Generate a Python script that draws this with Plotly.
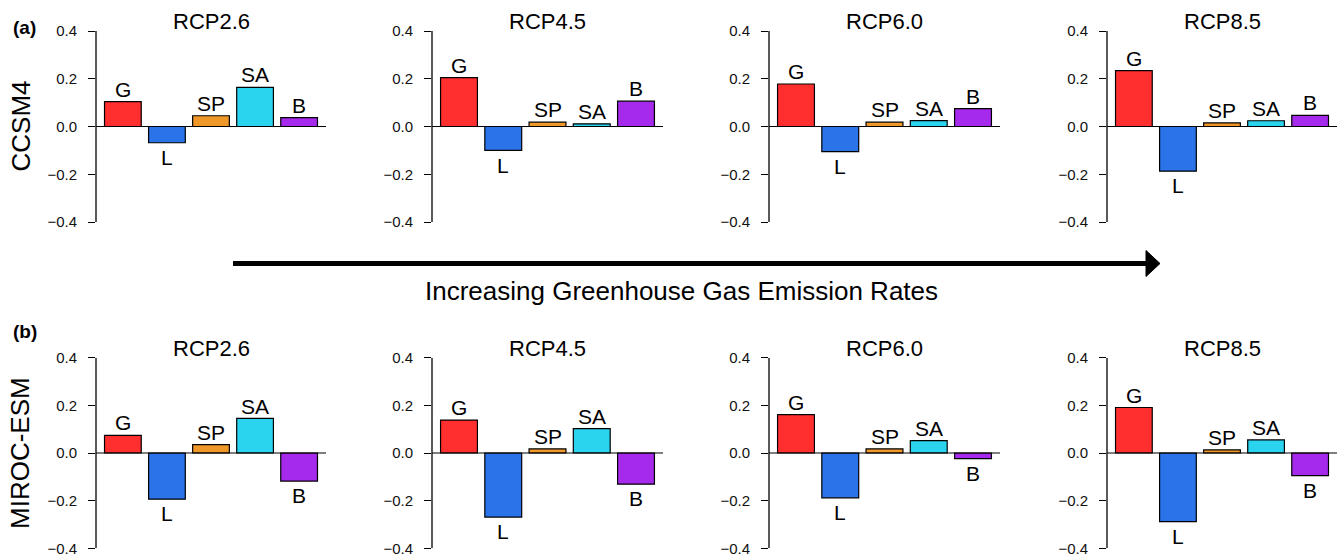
import plotly.graph_objects as go

# ---------------- data ----------------
categories = ["G", "L", "SP", "SA", "B"]
scenarios = ["RCP2.6", "RCP4.5", "RCP6.0", "RCP8.5"]
models = ["CCSM4", "MIROC-ESM"]
panel_letters = ["(a)", "(b)"]

ccsm4_rcp26 = [0.104, -0.068, 0.045, 0.164, 0.037]
ccsm4_rcp45 = [0.205, -0.100, 0.018, 0.011, 0.106]
ccsm4_rcp60 = [0.178, -0.105, 0.018, 0.025, 0.075]
ccsm4_rcp85 = [0.234, -0.187, 0.015, 0.024, 0.047]

miroc_rcp26 = [0.074, -0.194, 0.035, 0.145, -0.118]
miroc_rcp45 = [0.138, -0.269, 0.017, 0.102, -0.131]
miroc_rcp60 = [0.161, -0.188, 0.017, 0.052, -0.024]
miroc_rcp85 = [0.191, -0.288, 0.013, 0.055, -0.095]

rows = [
    [ccsm4_rcp26, ccsm4_rcp45, ccsm4_rcp60, ccsm4_rcp85],
    [miroc_rcp26, miroc_rcp45, miroc_rcp60, miroc_rcp85],
]

y_ticks = [-0.4, -0.2, 0.0, 0.2, 0.4]
arrow_text = "Increasing Greenhouse Gas Emission Rates"

# ---------------- style ----------------
bar_colors = ["#FF2F2F", "#2A73E8", "#F0972A", "#2AD3EE", "#A52AEC"]
FONT = "Liberation Sans, Arial, Helvetica, sans-serif"
W, H = 1344, 557
col_px = [(96, 326), (432, 663), (769, 1000), (1107, 1337)]
row_px = [(31, 222), (357.7, 548.3)]
pos_off, neg_off = 0.052, 0.062


def fx(px):
    return px / W


def fy(py):
    return 1 - py / H


fig = go.Figure()
annotations = []
shapes = []
layout_axes = {}

k = 0
for r, row_vals in enumerate(rows):
    for c, vals in enumerate(row_vals):
        k += 1
        xa = "x" if k == 1 else f"x{k}"
        ya = "y" if k == 1 else f"y{k}"
        fig.add_trace(go.Bar(
            x=categories, y=vals, xaxis=xa, yaxis=ya,
            marker=dict(color=bar_colors, line=dict(color="black", width=1.2)),
            showlegend=False, hoverinfo="x+y",
        ))
        layout_axes["xaxis" if k == 1 else f"xaxis{k}"] = dict(
            domain=[fx(col_px[c][0]), fx(col_px[c][1])], anchor=ya,
            type="category", range=[-0.61, 4.61],
            showticklabels=False, ticks="", showline=False,
            showgrid=False, zeroline=False, automargin=False,
        )
        layout_axes["yaxis" if k == 1 else f"yaxis{k}"] = dict(
            domain=[fy(row_px[r][1]), fy(row_px[r][0])], anchor=xa,
            range=[-0.4, 0.4], tickvals=y_ticks, tickformat=".1f",
            showline=False,
            ticks="outside", ticklen=7, tickwidth=1.2, tickcolor="black",
            ticklabelstandoff=8, automargin=False,
            tickfont=dict(family=FONT, size=15, color="#111"),
            showgrid=False, zeroline=False,
        )
        # axis line and zero line
        shapes.append(dict(type="line", xref=f"{xa} domain", yref=ya,
                           x0=0, x1=0, y0=y_ticks[0], y1=y_ticks[-1],
                           line=dict(color="black", width=1.3)))
        shapes.append(dict(type="line", xref=f"{xa} domain", yref=ya,
                           x0=0, x1=1, y0=0, y1=0,
                           line=dict(color="black", width=1.2)))
        # bar labels
        for cat, v in zip(categories, vals):
            annotations.append(dict(
                x=cat, y=v + (pos_off if v >= 0 else -neg_off),
                xref=xa, yref=ya, text=cat, showarrow=False,
                yanchor="middle", xanchor="center",
                font=dict(family=FONT, size=21, color="black"),
            ))
        # scenario title
        annotations.append(dict(
            x=fx((col_px[c][0] + col_px[c][1]) / 2), y=fy(row_px[r][0] - 9),
            xref="paper", yref="paper", text=scenarios[c], showarrow=False,
            yanchor="middle", xanchor="center",
            font=dict(family=FONT, size=22, color="black"),
        ))
    # model label
    annotations.append(dict(
        x=fx(20), y=fy((row_px[r][0] + row_px[r][1]) / 2),
        xref="paper", yref="paper", text=models[r], showarrow=False,
        textangle=-90, xanchor="center", yanchor="middle",
        font=dict(family=FONT, size=26, color="black"),
    ))
    annotations.append(dict(
        x=fx(11), y=fy([27, 332][r]), xref="paper", yref="paper",
        text=f"<b>{panel_letters[r]}</b>", showarrow=False,
        xanchor="left", yanchor="middle",
        font=dict(family=FONT, size=19, color="black"),
    ))

annotations.append(dict(
    x=fx(681), y=fy(291), xref="paper", yref="paper", text=arrow_text,
    showarrow=False, xanchor="center", yanchor="middle",
    font=dict(family=FONT, size=26, color="black"),
))

shapes += [
    dict(type="line", xref="paper", yref="paper",
         x0=fx(233), x1=fx(1148), y0=fy(263.5), y1=fy(263.5),
         line=dict(color="black", width=5)),
    dict(type="path", xref="paper", yref="paper",
         path=f"M {fx(1146)},{fy(250.5)} L {fx(1160)},{fy(263.5)} L {fx(1146)},{fy(276.5)} Z",
         fillcolor="black", line=dict(color="black", width=1)),
]

fig.update_layout(
    width=W, height=H, margin=dict(l=0, r=0, t=0, b=0, pad=0, autoexpand=False),
    paper_bgcolor="white", plot_bgcolor="white",
    bargap=1 - 1 / 1.2, annotations=annotations, shapes=shapes,
    showlegend=False,
    **layout_axes,
)

fig.write_html(
    "out.html",
    config={"displayModeBar": False},
    post_script="document.body.style.margin='0';document.body.style.overflow='hidden';",
)
